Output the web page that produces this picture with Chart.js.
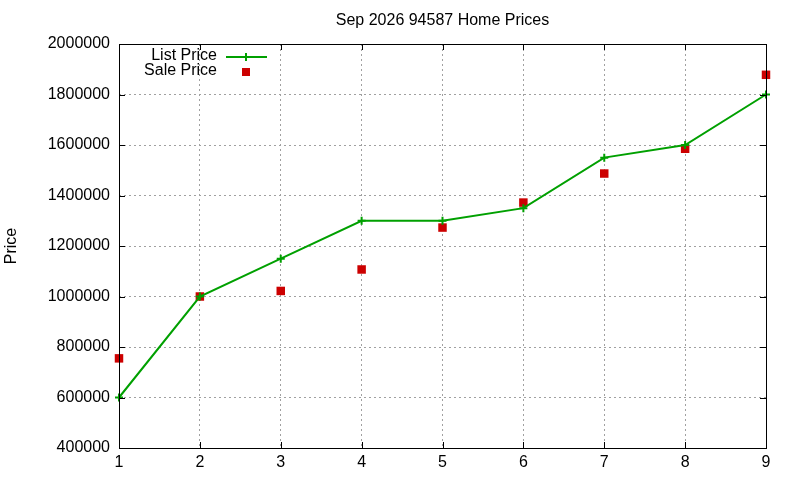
<!DOCTYPE html>
<html><head><meta charset="utf-8">
<script src="https://cdn.jsdelivr.net/npm/chart.js@4"></script>
<style>html,body{margin:0;padding:0;background:#fff}#wrap{width:800px;height:480px}</style>
</head><body><div id="wrap"><canvas id="c" width="800" height="480"></canvas></div>
<script>
const chartTitle = "Sep 2026 94587 Home Prices";
const yAxisTitle = "Price";
const months = [1, 2, 3, 4, 5, 6, 7, 8, 9];
const listPrice = [600000, 1000000, 1150000, 1300000, 1300000, 1350000, 1550000, 1600000, 1800000];
const salePrice = [755000, 1000000, 1022000, 1107000, 1273000, 1372000, 1487000, 1585000, 1878000];
const yMin = 400000, yMax = 2000000, yStep = 200000;
const xMin = 1, xMax = 9;

const FONT = "'Liberation Sans', Arial, sans-serif";
const green = '#00a000', red = '#cc0000';

const overlay = {
  id: 'overlay',
  afterDraw(chart) {
    const ctx = chart.ctx, a = chart.chartArea;
    const xs = chart.scales.x, ys = chart.scales.y;
    ctx.save();
    ctx.strokeStyle = '#000'; ctx.lineWidth = 1;
    ctx.strokeRect(Math.round(a.left) + 0.5, Math.round(a.top) + 0.5, Math.round(a.right - a.left), Math.round(a.bottom - a.top));
    const tl = 6;
    ctx.beginPath();
    ys.ticks.forEach(t => {
      const y = Math.round(ys.getPixelForValue(t.value)) + 0.5;
      ctx.moveTo(a.left, y); ctx.lineTo(a.left + tl, y);
      ctx.moveTo(a.right, y); ctx.lineTo(a.right - tl, y);
    });
    xs.ticks.forEach(t => {
      const x = Math.round(xs.getPixelForValue(t.value)) + 0.5;
      ctx.moveTo(x, a.bottom); ctx.lineTo(x, a.bottom - tl);
      ctx.moveTo(x, a.top); ctx.lineTo(x, a.top + tl);
    });
    ctx.stroke();
    ctx.fillStyle = '#000';
    ctx.font = '16px ' + FONT;
    ctx.textAlign = 'center'; ctx.textBaseline = 'middle';
    ctx.fillText(chartTitle, (a.left + a.right) / 2, 21);
    ctx.save();
    ctx.translate(12, (a.top + a.bottom) / 2);
    ctx.rotate(-Math.PI / 2);
    ctx.font = '16px ' + FONT;
    ctx.fillText(yAxisTitle, 0, 0);
    ctx.restore();
    const ds = chart.data.datasets;
    ctx.font = '16px ' + FONT;
    ctx.textAlign = 'right';
    const textRight = 217;
    const rows = [57, 72];
    ctx.fillText(ds[0].label, textRight, rows[0] - 1);
    ctx.fillText(ds[1].label, textRight, rows[1] - 1);
    ctx.strokeStyle = green; ctx.lineWidth = 2;
    ctx.beginPath(); ctx.moveTo(226, rows[0]); ctx.lineTo(267, rows[0]); ctx.stroke();
    ctx.beginPath(); ctx.moveTo(246, rows[0] - 4); ctx.lineTo(246, rows[0] + 4); ctx.stroke();
    ctx.fillStyle = red;
    ctx.fillRect(242, rows[1] - 4, 8, 8);
    ctx.restore();
  }
};

new Chart(document.getElementById('c'), {
  type: 'line',
  data: {
    datasets: [
      {
        label: 'List Price',
        data: months.map((m, i) => ({x: m, y: listPrice[i]})),
        borderColor: green, backgroundColor: green,
        borderWidth: 2, pointStyle: 'cross', pointRadius: 4, pointBorderWidth: 2,
        tension: 0, fill: false, clip: false
      },
      {
        label: 'Sale Price',
        data: months.map((m, i) => ({x: m, y: salePrice[i]})),
        showLine: false, clip: false,
        borderColor: red, backgroundColor: red,
        pointStyle: 'rect', pointRadius: 6, pointBorderWidth: 0
      }
    ]
  },
  options: {
    responsive: false, animation: false,
    layout: { padding: { top: 44, right: 34, left: 0, bottom: 0 } },
    plugins: { legend: { display: false }, title: { display: false }, tooltip: { enabled: false } },
    scales: {
      x: {
        type: 'linear', min: xMin, max: xMax,
        ticks: { stepSize: 1, color: '#000', font: { family: FONT, size: 16 }, padding: 5, callback: v => String(v) },
        grid: { color: '#a0a0a0', drawTicks: false, lineWidth: 1 },
        border: { display: false, dash: [2, 3] },
        afterFit(s) { s.height = 32; }
      },
      y: {
        min: yMin, max: yMax,
        ticks: { stepSize: yStep, color: '#000', font: { family: FONT, size: 16 }, padding: 9, callback: v => String(v) },
        grid: { color: '#a0a0a0', drawTicks: false, lineWidth: 1 },
        border: { display: false, dash: [2, 3] },
        afterFit(s) { s.width = 119; }
      }
    }
  },
  plugins: [overlay]
});
</script></body></html>
